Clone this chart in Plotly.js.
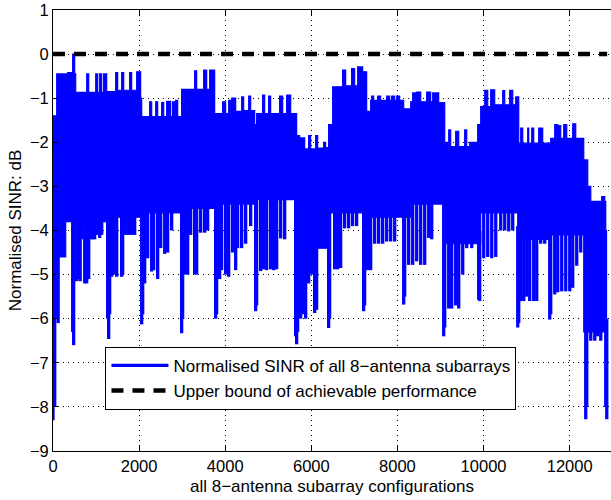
<!DOCTYPE html>
<html>
<head>
<meta charset="utf-8">
<script src="https://cdn.plot.ly/plotly-3.0.1.min.js"></script>
<style>html,body{margin:0;padding:0;background:#fff;overflow:hidden}</style>
</head>
<body>
<div id="chart" style="width:611px;height:500px"></div>
<script>
// Upper envelope of the SINR trace: [configuration index, dB] (step function)
const topSteps = [[0,-1.4],[86,-0.45],[200,-0.95],[225,-0.45],[318,-0.9],[341,-0.42],[434,-0.45],[457,0.0],[504,-0.45],[527,-0.87],[783,-0.45],[829,-0.87],[992,-0.45],[1038,-0.87],[1084,-0.45],[1131,-0.87],[1177,-0.45],[1247,-0.85],[1456,-0.42],[1502,-0.82],[1595,-0.42],[1642,-0.82],[1781,-0.42],[1827,-0.82],[1944,-0.4],[2036,-1.0],[2060,-1.42],[2245,-1.08],[2292,-1.42],[2385,-1.08],[2431,-1.42],[2524,-1.1],[2571,-1.42],[2640,-1.07],[2733,-1.42],[2779,-1.08],[2826,-1.42],[2849,-1.05],[2896,-1.42],[2988,-0.8],[3290,-0.38],[3337,-0.8],[3499,-0.36],[3569,-0.8],[3639,-0.36],[3755,-1.35],[3940,-1.08],[4010,-1.35],[4080,-1.05],[4126,-1.35],[4150,-1.0],[4243,-1.3],[4382,-0.97],[4428,-1.28],[4545,-0.95],[4591,-1.28],[4684,-1.6],[4730,-1.35],[4869,-0.93],[4916,-1.35],[5009,-0.95],[5055,-1.35],[5264,-0.95],[5334,-1.35],[5427,-0.93],[5520,-1.35],[5659,-1.9],[5682,-1.85],[5729,-1.9],[5845,-2.15],[5938,-1.85],[5984,-2.15],[6100,-1.85],[6147,-2.13],[6286,-2.0],[6332,-2.12],[6402,-1.6],[6495,-0.74],[6727,-0.36],[6797,-0.72],[6936,-0.33],[7006,-0.72],[7076,-0.29],[7192,-0.4],[7285,-1.3],[7378,-1.05],[7401,-0.95],[7448,-1.05],[7541,-0.95],[7610,-1.05],[7750,-0.95],[7820,-1.05],[7866,-0.95],[7936,-1.05],[7982,-0.95],[8052,-1.05],[8145,-1.24],[8308,-1.08],[8354,-0.88],[8424,-1.08],[8447,-0.86],[8540,-1.08],[8679,-0.86],[8772,-1.08],[8819,-0.88],[8958,-1.1],[9098,-2.0],[9167,-2.1],[9191,-1.72],[9237,-2.1],[9353,-1.75],[9423,-2.1],[9562,-1.72],[9609,-2.1],[9678,-2.0],[9864,-1.6],[9934,-1.19],[10027,-0.82],[10097,-1.19],[10166,-0.81],[10259,-1.15],[10445,-0.83],[10492,-1.15],[10608,-0.82],[10677,-1.15],[10747,-0.97],[10817,-2.02],[10863,-1.68],[10910,-2.02],[11026,-1.68],[11049,-2.02],[11119,-1.68],[11165,-2.02],[11281,-1.68],[11374,-2.02],[11560,-1.91],[11653,-1.6],[11723,-1.91],[11746,-1.62],[11793,-1.91],[11862,-1.6],[11932,-1.91],[12071,-1.58],[12141,-1.91],[12327,-2.4],[12420,-3.0],[12490,-3.34],[12745,-3.23],[12815,-3.34],[12838,-4.0],[12870,-4.0]];

// Lower edge of the dense (solid) part of the trace: [configuration index, dB]
const coreSteps = [[0,-4.6],[295,-3.8],[1270,-3.7],[2036,-3.6],[2988,-3.5],[3755,-3.4],[4684,-3.3],[5659,-4.4],[6402,-3.6],[7285,-3.7],[8308,-3.4],[9098,-4.3],[9934,-3.6],[10794,-4.2],[11560,-4.1],[12327,-6.3],[12870,-6.3]];

// Downward excursions (minimum SINR values): [configuration index, dB]
const dips = [[0,-8.3],[40,-8.0],[86,-6.0],[120,-6.1],[156,-4.6],[202,-4.6],[248,-4.5],[457,-6.3],[480,-6.6],[550,-5.15],[597,-5.1],[632,-5.15],[666,-4.2],[736,-5.2],[783,-5.2],[829,-5.1],[875,-4.2],[922,-4.2],[968,-4.2],[1015,-4.1],[1084,-4.17],[1131,-4.1],[1270,-6.0],[1293,-6.46],[1316,-5.9],[1363,-5.05],[1409,-5.0],[1479,-5.05],[1595,-5.05],[1618,-5.0],[1688,-4.1],[1758,-4.1],[1827,-4.1],[1897,-4.1],[2060,-6.13],[2083,-5.9],[2129,-5.2],[2199,-4.63],[2292,-4.93],[2338,-4.9],[2431,-5.1],[2501,-4.4],[2594,-4.53],[2663,-4.5],[2756,-4.0],[2988,-6.33],[3011,-6.0],[3058,-5.0],[3128,-5.0],[3197,-4.1],[3290,-5.0],[3337,-5.0],[3430,-4.05],[3522,-4.05],[3592,-4.0],[3778,-6.0],[3801,-5.9],[3870,-5.1],[3917,-4.9],[4010,-5.0],[4080,-5.05],[4173,-4.5],[4243,-4.9],[4289,-4.4],[4382,-4.4],[4475,-4.3],[4591,-3.9],[4707,-5.83],[4730,-5.7],[4823,-4.92],[4893,-4.88],[4963,-4.9],[5055,-4.88],[5125,-4.9],[5195,-4.88],[5288,-4.18],[5381,-4.2],[5636,-6.4],[5659,-6.58],[5682,-6.3],[5752,-6.0],[5798,-5.9],[5868,-6.0],[5938,-5.2],[6007,-5.0],[6077,-5.87],[6123,-5.8],[6193,-4.4],[6263,-4.4],[6332,-4.4],[6402,-6.21],[6425,-6.0],[6541,-4.88],[6611,-4.88],[6681,-4.85],[6774,-3.95],[6867,-3.95],[6959,-3.9],[7052,-3.9],[7215,-5.83],[7238,-5.7],[7308,-4.9],[7378,-4.9],[7471,-4.3],[7564,-4.3],[7657,-4.3],[7750,-4.25],[7843,-4.25],[7936,-4.25],[8145,-5.68],[8168,-5.5],[8261,-4.78],[8354,-4.78],[8447,-4.7],[8540,-4.78],[8633,-4.78],[8726,-4.17],[8796,-4.2],[9074,-6.4],[9098,-6.2],[9191,-5.77],[9260,-5.77],[9353,-5.7],[9423,-5.77],[9516,-5.0],[9609,-4.4],[9725,-4.4],[9887,-5.57],[9911,-5.6],[10004,-4.63],[10097,-4.6],[10190,-4.63],[10283,-4.6],[10399,-4.0],[10492,-4.0],[10585,-4.02],[10677,-4.0],[10794,-6.2],[10817,-6.1],[10863,-5.6],[10933,-5.6],[11003,-5.5],[11072,-5.6],[11165,-5.6],[11235,-5.6],[11328,-4.3],[11421,-4.3],[11537,-6.02],[11560,-5.9],[11653,-5.45],[11723,-5.4],[11816,-5.38],[11909,-5.38],[12002,-5.38],[12071,-5.3],[12164,-4.8],[12257,-4.5],[12373,-8.28],[12397,-8.0],[12490,-6.5],[12583,-6.5],[12652,-6.4],[12722,-6.5],[12838,-8.0],[12862,-8.28]];

// Upper bound of achievable performance (0 dB)
const boundX = [1, 12870];
const boundY = [0, 0];

const xTickVals = [0, 2000, 4000, 6000, 8000, 10000, 12000];
const xTickText = ['0', '2000', '4000', '6000', '8000', '10000', '12000'];
const yTickVals = [-9, -8, -7, -6, -5, -4, -3, -2, -1, 0, 1];
const yTickText = ['\u22129', '\u22128', '\u22127', '\u22126', '\u22125', '\u22124', '\u22123', '\u22122', '\u22121', '0', '1'];

const seriesName = 'Normalised SINR of all 8\u2212antenna subarrays';
const boundName = 'Upper bound of achievable performance';
const BLUE = '#0000FF';

function coreAt(x) {
  let v = coreSteps[0][1];
  for (const [cx, cy] of coreSteps) { if (cx <= x) v = cy; else break; }
  return v;
}

const dipX = [], dipY = [];
dips.forEach(([x, y]) => { dipX.push(x, x, null); dipY.push(coreAt(x) + 0.3, y, null); });

const traces = [
  { x: topSteps.map(p => p[0]), y: topSteps.map(p => p[1]), mode: 'lines',
    line: { shape: 'hv', color: BLUE, width: 1.2 }, showlegend: false, hoverinfo: 'skip' },
  { x: coreSteps.map(p => p[0]), y: coreSteps.map(p => p[1]), mode: 'lines',
    line: { shape: 'hv', color: BLUE, width: 1.2 }, fill: 'tonexty', fillcolor: BLUE,
    showlegend: false, hoverinfo: 'skip' },
  { x: dipX, y: dipY, mode: 'lines', name: seriesName, connectgaps: false,
    line: { color: BLUE, width: 3.3 } },
  { x: boundX, y: boundY, mode: 'lines', name: boundName,
    line: { color: '#000', width: 4.5, dash: '12px,9px' } }
];

const FONT = '"Liberation Sans", Arial, Helvetica, sans-serif';
const layout = {
  width: 611, height: 500,
  margin: { l: 53, r: 0, t: 10, b: 49, pad: 0 },
  paper_bgcolor: '#fff', plot_bgcolor: '#fff',
  font: { family: FONT, size: 17, color: '#000' },
  showlegend: true,
  legend: { x: 0.094, y: 0.236, xanchor: 'left', yanchor: 'top', bgcolor: '#fff',
    traceorder: 'normal', itemwidth: 57,
    bordercolor: '#000', borderwidth: 1, font: { family: FONT, size: 17, color: '#000' } },
  xaxis: { range: [0, 12960], tickmode: 'array', tickvals: xTickVals, ticktext: xTickText,
    ticks: 'inside', ticklen: 5, tickcolor: '#000', tickwidth: 1,
    showline: true, linecolor: '#000', linewidth: 1, mirror: 'ticks',
    showgrid: true, gridcolor: '#000', gridwidth: 1, griddash: '1px,4px', zeroline: false,
    tickfont: { family: FONT, size: 16.5, color: '#000' },
    title: { text: 'all 8\u2212antenna subarray configurations', font: { family: FONT, size: 17 }, standoff: 6 } },
  yaxis: { range: [-9, 1], tickmode: 'array', tickvals: yTickVals, ticktext: yTickText,
    ticks: 'inside', ticklen: 5, tickcolor: '#000', tickwidth: 1,
    showline: true, linecolor: '#000', linewidth: 1, mirror: false,
    showgrid: true, gridcolor: '#000', gridwidth: 1, griddash: '1px,4px', zeroline: false,
    tickfont: { family: FONT, size: 16.5, color: '#000' },
    title: { text: 'Normalised SINR: dB', font: { family: FONT, size: 17 }, standoff: 3 } }
};

Plotly.newPlot('chart', traces, layout, { displayModeBar: false, staticPlot: true });
</script>
</body>
</html>
